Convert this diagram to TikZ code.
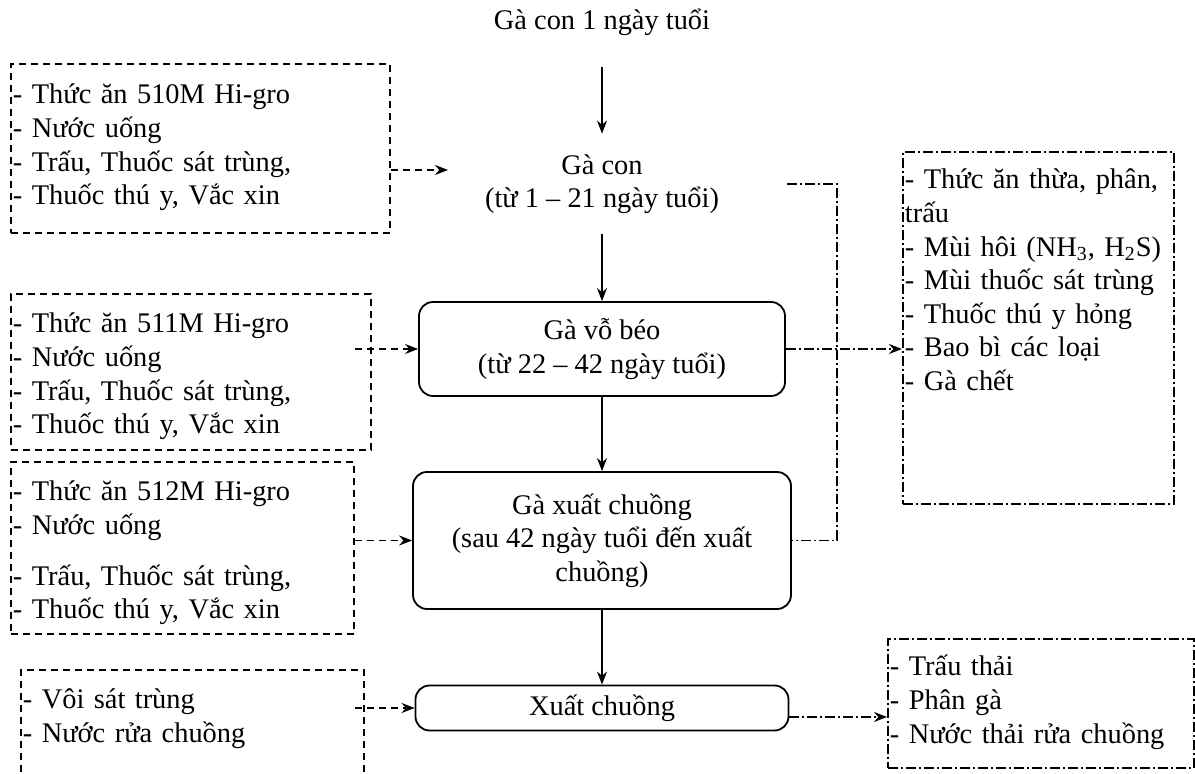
\documentclass[tikz,border=0pt]{standalone}
\usepackage{fontspec}
\setmainfont{Liberation Serif}
\usetikzlibrary{arrows.meta,calc}

\begin{document}
\begin{tikzpicture}[x=0.5pt,y=-0.5pt]
\tikzstyle{every node}=[font=\fontsize{14.2pt}{16.8pt}\selectfont]
\tikzstyle{proc}=[draw,rounded corners=7pt,line width=0.9pt,align=center,inner sep=0pt]
\tikzstyle{inbox}=[draw,dash pattern=on 3.5pt off 2.5pt,line width=0.9pt,anchor=north west,align=left,inner xsep=1pt,inner ysep=0pt]
\tikzstyle{outbox}=[inbox,dash pattern=on 5pt off 1.5pt on 1pt off 1.5pt]
\tikzstyle{arr}=[line width=0.8pt,-{Stealth[length=6.5pt,width=5pt]}]
\tikzstyle{dasharr}=[arr,dash pattern=on 3.5pt off 2.5pt]
\tikzstyle{ddline}=[line width=0.8pt,dash pattern=on 5pt off 1.5pt on 1pt off 1.5pt]
\tikzstyle{ddarr}=[arr,ddline]
\useasboundingbox (0,0) rectangle (1195,774);
% main flow
\node (start) at (602,22) {Gà con 1 ngày tuổi};
\node[align=center,minimum width=185pt,minimum height=50pt,inner sep=0pt] (gacon) at (602,184) {Gà con\\(từ 1 – 21 ngày tuổi)};
\node[proc,minimum width=183pt,minimum height=47pt] (vobeo) at (602,349) {Gà vỗ béo\\(từ 22 – 42 ngày tuổi)};
\node[proc,minimum width=189pt,minimum height=68.5pt] (xuat) at (602,540.5) {Gà xuất chuồng\\(sau 42 ngày tuổi đến xuất\\chuồng)};
\node[proc,minimum width=186.5pt,minimum height=22.5pt] (xc) at (602,708) {Xuất chuồng};
% inputs
\node[inbox,text width=187.5pt,text height=20pt,text depth=64.5pt] (in1) at (10,63)
  {- Thức ăn 510M Hi-gro\\- Nước uống\\- Trấu, Thuốc sát trùng,\\- Thuốc thú y, Vắc xin};
\node[inbox,text width=178pt,text height=19.5pt,text depth=58.5pt] (in2) at (10,293)
  {- Thức ăn 511M Hi-gro\\- Nước uống\\- Trấu, Thuốc sát trùng,\\- Thuốc thú y, Vắc xin};
\node[inbox,text width=169.5pt,text height=19.5pt,text depth=66.5pt] (in3) at (10,461)
  {- Thức ăn 512M Hi-gro\\- Nước uống\\[8.5pt]- Trấu, Thuốc sát trùng,\\- Thuốc thú y, Vắc xin};
\node[inbox,text width=169.5pt,text height=19.5pt,text depth=46pt] (in4) at (20,669)
  {- Vôi sát trùng\\- Nước rửa chuồng};
% wastes
\node[outbox,text width=133.5pt,text height=18.5pt,text depth=157.5pt] (out1) at (902,151)
  {- Thức ăn thừa, phân,\\trấu\\- Mùi hôi (NH\textsubscript{3}, H\textsubscript{2}S)\\- Mùi thuốc sát trùng\\- Thuốc thú y hỏng\\- Bao bì các loại\\- Gà chết};
\node[outbox,text width=151pt,text height=18.5pt,text depth=46pt] (out2) at (887,638)
  {- Trấu thải\\- Phân gà\\- Nước thải rửa chuồng};
% arrows
\draw[arr,shorten <=12.5pt] (start) -- (gacon);
\foreach \a/\b in {gacon/vobeo,vobeo/xuat,xuat/xc}
  \draw[arr] (\a) -- (\b);
\coordinate (gcin) at (448,170);
\draw[dasharr] (in1.east |- gcin) -- (gcin);
\draw[dasharr] ($(in2.east |- vobeo.west)+(-8.5pt,0)$) -- (vobeo.west);
\draw[dasharr] (in3.east |- xuat.west) -- (xuat.west);
\draw[dasharr] ($(in4.east |- xc.west)+(-5pt,0)$) -- (xc.west);
\draw[ddline] (gacon.east) -| ($(xuat.east)+(22.5pt,0)$) -- (xuat.east);
\draw[ddarr] (vobeo.east) -- (vobeo.east -| out1.west);
\coordinate (xco) at ($(xc.east)+(0,-4.5pt)$);
\draw[ddarr] (xco) -- (xco -| out2.west);
\end{tikzpicture}
\end{document}
